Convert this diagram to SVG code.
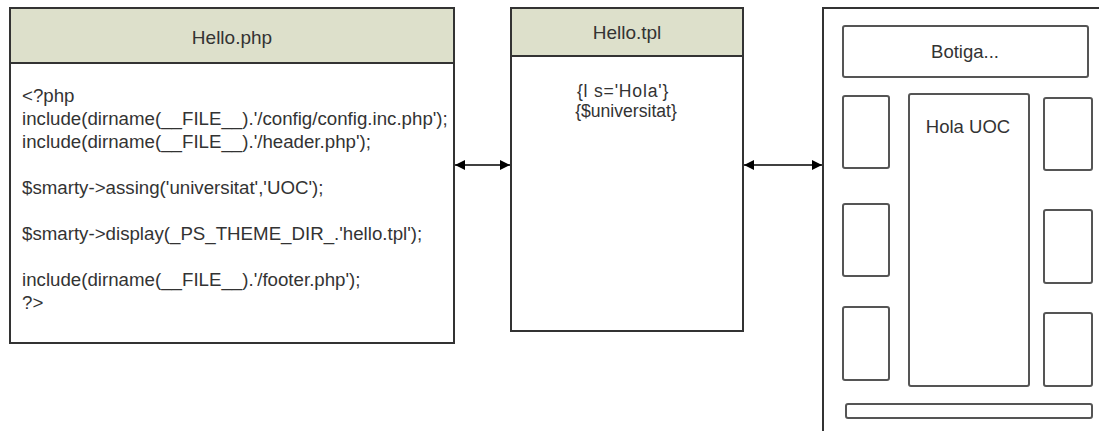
<svg xmlns="http://www.w3.org/2000/svg" width="1099" height="431" viewBox="0 0 1099 431">
<style>
text{font-family:"Liberation Sans",Arial,sans-serif;font-size:18.5px;fill:#333}
.code{font-size:18.7px}
.tpl{font-size:17.6px}
.box{fill:#fff;stroke:#333;stroke-width:2}
.hdr{fill:#dde0cb;stroke:#333;stroke-width:2}
.inner{fill:#fff;stroke:#555;stroke-width:2}
.c{text-anchor:middle}
.conn{stroke:#000;stroke-width:1.5;fill:none}
</style>
<defs>
<marker id="ah" viewBox="0 0 10 10" refX="10" refY="5" markerWidth="10" markerHeight="10" markerUnits="userSpaceOnUse" orient="auto-start-reverse">
<path d="M0,0 L10,5 L0,10 z" fill="#000"/>
</marker>
</defs>
<g id="hello-php">
<rect class="box" x="10" y="8" width="444" height="335"/>
<rect class="hdr" x="10" y="8" width="444" height="55"/>
<text class="c" x="232" y="44" style="font-size:19px">Hello.php</text>
<text class="code" x="22" y="102">&lt;?php</text>
<text class="code" x="22" y="125">include(dirname(__FILE__).'/config/config.inc.php');</text>
<text class="code" x="22" y="148">include(dirname(__FILE__).'/header.php');</text>
<text class="code" x="22" y="194">$smarty-&gt;assing('universitat','UOC');</text>
<text class="code" x="22" y="240">$smarty-&gt;display(_PS_THEME_DIR_.'hello.tpl');</text>
<text class="code" x="22" y="286">include(dirname(__FILE__).'/footer.php');</text>
<text class="code" x="22" y="309">?&gt;</text>
</g>
<g id="hello-tpl">
<rect class="box" x="511" y="8" width="232" height="323"/>
<rect class="hdr" x="511" y="8" width="232" height="48"/>
<text class="c" x="627" y="39" style="font-size:19px">Hello.tpl</text>
<text class="c tpl" x="623" y="97" style="letter-spacing:0.8px">{l s='Hola'}</text>
<text class="c tpl" x="626" y="117">{$universitat}</text>
</g>
<g id="page">
<rect class="box" x="823" y="8" width="300" height="450"/>
<g id="botiga">
<rect class="inner" x="843" y="26" width="245" height="51" rx="2"/>
<text class="c" x="965" y="58">Botiga...</text>
</g>
<g id="left-blocks">
<rect class="inner" x="843" y="96" width="46" height="72" rx="2"/>
<rect class="inner" x="843" y="204" width="46" height="72" rx="2"/>
<rect class="inner" x="843" y="307" width="46" height="73" rx="2"/>
</g>
<g id="center">
<rect class="inner" x="909" y="94" width="120" height="292" rx="2"/>
<text class="c" x="968" y="133">Hola UOC</text>
</g>
<g id="right-blocks">
<rect class="inner" x="1044" y="98" width="48" height="72" rx="2"/>
<rect class="inner" x="1044" y="210" width="48" height="73" rx="2"/>
<rect class="inner" x="1044" y="313" width="48" height="73" rx="2"/>
</g>
<g id="footer-bar">
<rect class="inner" x="846" y="404" width="246" height="14" rx="2"/>
</g>
</g>
<g id="connectors">
<line class="conn" x1="455" y1="165" x2="510" y2="165" marker-start="url(#ah)" marker-end="url(#ah)"/>
<line class="conn" x1="744" y1="165" x2="822" y2="165" marker-start="url(#ah)" marker-end="url(#ah)"/>
</g>
</svg>
